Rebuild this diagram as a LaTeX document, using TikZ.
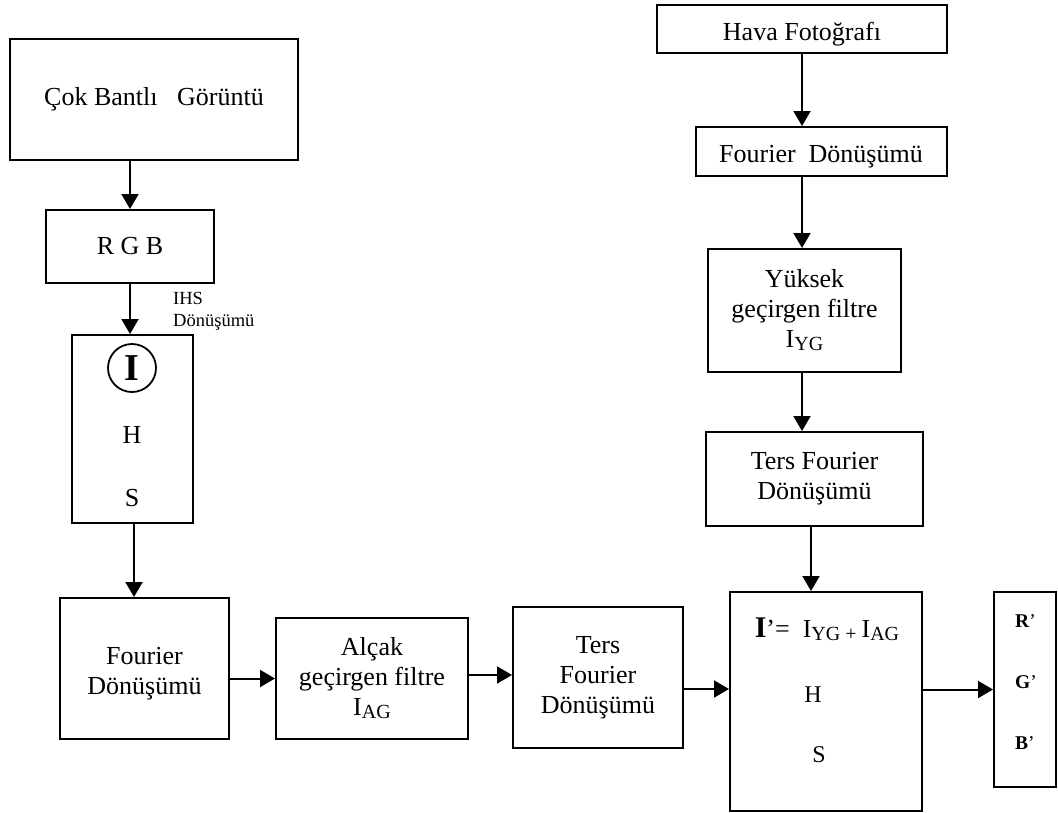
\documentclass[tikz,border=0pt]{standalone}
\usepackage{fontspec}
\setmainfont{Liberation Serif}
\usetikzlibrary{arrows.meta,calc}
\newcommand\subtx[1]{\raisebox{-3pt}{\fontsize{20}{20}\selectfont #1}}
\begin{document}
\begin{tikzpicture}[x=1pt,y=-1pt,
  box/.style={draw, line width=2pt, rectangle, inner sep=0pt, align=center, font=\fontsize{26}{30}\selectfont},
  txt/.style={inner sep=0pt, align=center, font=\fontsize{26}{30}\selectfont},
  arr/.style={line width=2pt, -{Triangle[length=15pt,width=17pt]}},
]
\useasboundingbox (0,0) rectangle (1058,812);

% left column
\node[box, minimum width=288pt, minimum height=121pt] (cok) at (154,99.5) {Çok Bantlı\ \ \ Görüntü};
\node[box, minimum width=168pt, minimum height=73pt] (rgb) at (130,246.5) {R G B};
\node[box, minimum width=121pt, minimum height=188pt] (ihs) at (132.5,429) {};
\node[draw, circle, line width=1.8pt, minimum size=48pt, inner sep=0pt, font=\fontsize{38}{38}\selectfont\bfseries] (ci) at (132,368) {I};
\node[txt] (ih) at (132,435) {H};
\node[txt] (is) at (132,498) {S};
\node[inner sep=0pt, align=left, anchor=north west, font=\fontsize{18.5}{22}\selectfont] (ihslab) at (173,292.5) {IHS\\Dönüşümü};

% bottom row
\node[box, minimum width=169pt, minimum height=141pt] (four) at (144.5,668.5) {};
\node[txt] (fourtx) at (144.5,674) {Fourier\\Dönüşümü};
\node[box, minimum width=192pt, minimum height=121pt] (alc) at (372,678.5) {Alçak\\geçirgen filtre\\I\subtx{AG}};
\node[box, minimum width=170pt, minimum height=141pt] (tersb) at (598,677.5) {Ters\\Fourier\\Dönüşümü};
\node[box, minimum width=192pt, minimum height=219pt] (ip) at (826,701.5) {};
\node[txt, anchor=base] (ipl) at (827,637) {{\fontsize{30}{30}\selectfont\bfseries I}’=\ \ I\subtx{YG + }I\subtx{AG}};
\node[txt, anchor=base, font=\fontsize{24}{28}\selectfont] (iph) at (813,702) {H};
\node[txt, anchor=base, font=\fontsize{24}{28}\selectfont] (ips) at (819,762) {S};
\node[box, minimum width=62pt, minimum height=195pt] (rgbp) at (1025,689.5) {};
\node[txt, anchor=base west, font=\fontsize{19.5}{20}\selectfont] (rp) at (1015,627) {\textbf{R}’};
\node[txt, anchor=base west, font=\fontsize{19.5}{20}\selectfont] (gp) at (1015,688) {\textbf{G}’};
\node[txt, anchor=base west, font=\fontsize{19.5}{20}\selectfont] (bp) at (1015,749) {\textbf{B}’};

% right column
\node[box, minimum width=290pt, minimum height=48pt] (hava) at (802,29) {};
\node[txt, anchor=base] (havatx) at (802,40) {Hava Fotoğrafı};
\node[box, minimum width=251pt, minimum height=49pt] (fourt) at (821.5,151.5) {};
\node[txt, anchor=base] (fourttx) at (821,162) {Fourier\ \ Dönüşümü};
\node[box, minimum width=193pt, minimum height=123pt] (yuk) at (804.5,310.5) {Yüksek\\geçirgen filtre\\I\subtx{YG}};
\node[box, minimum width=217pt, minimum height=94pt] (tersr) at (814.5,479) {Ters Fourier\\Dönüşümü};

% connectors
\draw[arr] (cok.south -| rgb.north) -- (rgb.north);
\draw[arr] (rgb.south) -- (rgb.south |- ihs.north);
\draw[arr] ([xshift=1.5pt]ihs.south) -- ([xshift=1.5pt]ihs.south |- four.north);
\draw[arr] (four.east |- alc.west) -- (alc.west);
\draw[arr] ([yshift=3.5pt]alc.east) -- ([yshift=3.5pt]alc.east -| tersb.west);
\draw[arr] ([yshift=-11.5pt]tersb.east) -- ([yshift=-11.5pt]tersb.east -| ip.west);
\draw[arr] (ip.east |- rgbp.west) -- (rgbp.west);
\draw[arr] (hava.south) -- (hava.south |- fourt.north);
\draw[arr] (fourt.south -| hava.south) -- (hava.south |- yuk.north);
\draw[arr] (yuk.south -| hava.south) -- (hava.south |- tersr.north);
\draw[arr] ([xshift=-3.5pt]tersr.south) -- ([xshift=-3.5pt]tersr.south |- ip.north);
\end{tikzpicture}
\end{document}
